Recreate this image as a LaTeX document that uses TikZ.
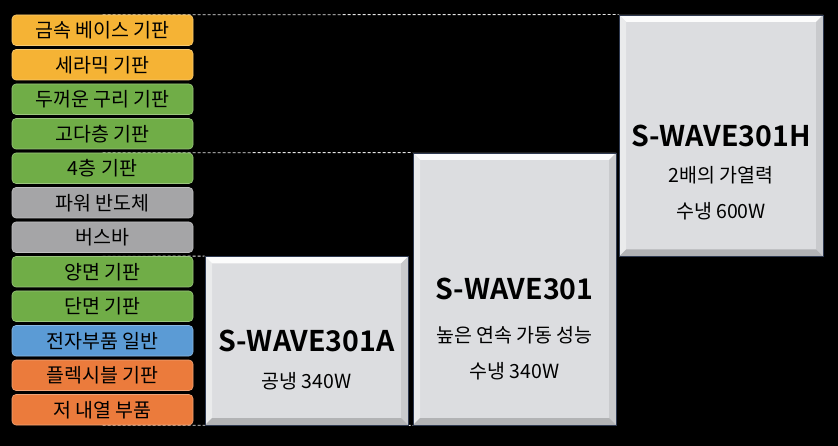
\documentclass[tikz,border=0pt]{standalone}
\usepackage{fontspec}
\setmainfont{Noto Sans CJK KR}[BoldFont={Noto Sans CJK KR Bold}]
\usetikzlibrary{positioning,backgrounds}
\definecolor{gold}{HTML}{F5B335}
\definecolor{leaf}{HTML}{70AD47}
\definecolor{stone}{HTML}{A5A5A7}
\definecolor{sky}{HTML}{5B9BD5}
\definecolor{rust}{HTML}{EB7B3C}
\definecolor{face}{HTML}{DCDDE0}
\definecolor{edge}{HTML}{2E3950}
\tikzset{
cat/.style={rounded corners=4pt, draw=#1!70!white, fill=#1, line width=0.6pt,
  minimum width=181pt, minimum height=30.5pt, inner sep=0pt,
  font=\fontsize{19.5}{19.5}\selectfont},
panel/.style={draw=edge, line width=0.8pt, fill=face, inner sep=0pt,
  path picture={
  \fill[white!92!face] (path picture bounding box.north west) -- (path picture bounding box.north east)
    -- ([shift={(-7pt,-7pt)}]path picture bounding box.north east) -- ([shift={(7pt,-7pt)}]path picture bounding box.north west) -- cycle;
  \fill[face!60!white] (path picture bounding box.north west) -- ([shift={(7pt,-7pt)}]path picture bounding box.north west)
    -- ([shift={(7pt,7pt)}]path picture bounding box.south west) -- (path picture bounding box.south west) -- cycle;
  \fill[face!80!gray] (path picture bounding box.north east) -- ([shift={(-7pt,-7pt)}]path picture bounding box.north east)
    -- ([shift={(-7pt,7pt)}]path picture bounding box.south east) -- (path picture bounding box.south east) -- cycle;
  \fill[face!55!gray] (path picture bounding box.south west) -- ([shift={(7pt,7pt)}]path picture bounding box.south west)
    -- ([shift={(-7pt,7pt)}]path picture bounding box.south east) -- (path picture bounding box.south east) -- cycle;
  }},
ttl/.style={inner sep=0pt, font=\fontsize{28.5}{28.5}\selectfont\bfseries},
sub/.style={inner sep=0pt, align=center, font=\fontsize{19.5}{36}\selectfont},
link/.style={draw=white!90!black, dash pattern=on 3pt off 2pt, line width=0.8pt}
}
\begin{document}
\begin{tikzpicture}[x=1pt,y=-1pt]
\useasboundingbox (0,0) rectangle (838,446);
% category list
\foreach \i/\t/\c in {1/금속 베이스 기판/gold, 2/세라믹 기판/gold, 3/두꺼운 구리 기판/leaf,
  4/고다층 기판/leaf, 5/4층 기판/leaf, 6/파워 반도체/stone, 7/버스바/stone,
  8/양면 기판/leaf, 9/단면 기판/leaf, 10/전자부품 일반/sky, 11/플렉시블 기판/rust,
  12/저 내열 부품/rust}
\node[cat=\c] (c\i) at (102.5, {15+(\i-1)*34.5+15.25}) {\t};
% models
\node[panel, minimum width=204pt, minimum height=241.5pt] (pH) at (721,135.75) {};
\node[panel, minimum width=203pt, minimum height=272pt] (p2) at (514.5,289) {};
\node[panel, minimum width=203pt, minimum height=168.5pt] (pA) at (306.5,340.75) {};
\node[ttl] (tH) at (pH) {S-WAVE301H};
\node[sub, below=19pt of tH] (sH) {2배의 가열력\\수냉 600W};
\node[ttl] (t2) at (p2) {S-WAVE301};
\node[sub, below=26pt of t2] (s2) {높은 연속 가동 성능\\수냉 340W};
\node[ttl] (tA) at (pA) {S-WAVE301A};
\node[sub, below=20pt of tA] (sA) {공냉 340W};
\begin{scope}[on background layer]
\fill[black] (0,0) rectangle (838,446);
\draw[link] (c1.north) -- (pH.north west);
\draw[link] (c5.north) -- (p2.north west);
\draw[link] (c8.north) -- (pA.north west);
\draw[link] (c12.south) -- (p2.south east);
\end{scope}
\end{tikzpicture}
\end{document}
